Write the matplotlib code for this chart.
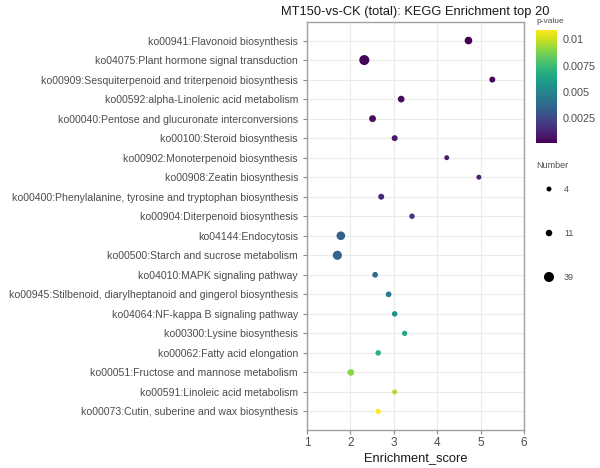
import matplotlib
matplotlib.use("Agg")
import matplotlib.pyplot as plt
import numpy as np

plt.rcParams["font.family"] = ["Liberation Sans", "DejaVu Sans"]

# pathways, top to bottom as shown
pathways = [
    "ko00941:Flavonoid biosynthesis",
    "ko04075:Plant hormone signal transduction",
    "ko00909:Sesquiterpenoid and triterpenoid biosynthesis",
    "ko00592:alpha-Linolenic acid metabolism",
    "ko00040:Pentose and glucuronate interconversions",
    "ko00100:Steroid biosynthesis",
    "ko00902:Monoterpenoid biosynthesis",
    "ko00908:Zeatin biosynthesis",
    "ko00400:Phenylalanine, tyrosine and tryptophan biosynthesis",
    "ko00904:Diterpenoid biosynthesis",
    "ko04144:Endocytosis",
    "ko00500:Starch and sucrose metabolism",
    "ko04010:MAPK signaling pathway",
    "ko00945:Stilbenoid, diarylheptanoid and gingerol biosynthesis",
    "ko04064:NF-kappa B signaling pathway",
    "ko00300:Lysine biosynthesis",
    "ko00062:Fatty acid elongation",
    "ko00051:Fructose and mannose metabolism",
    "ko00591:Linoleic acid metabolism",
    "ko00073:Cutin, suberine and wax biosynthesis",
]
enrichment = [4.72, 2.32, 5.27, 3.17, 2.51, 3.02, 4.22, 4.96, 2.71, 3.42,
              1.78, 1.70, 2.57, 2.88, 3.02, 3.25, 2.64, 2.01, 3.02, 2.64]
numbers = [18, 39, 8, 12, 13, 8, 4, 4, 8, 6,
           26, 30, 7, 7, 6, 5, 6, 12, 4, 5]
pvalues = [0.0001, 0.0002, 0.0003, 0.0004, 0.0005, 0.0008, 0.0010, 0.0011, 0.0013, 0.0018,
           0.0035, 0.0036, 0.0040, 0.0045, 0.0055, 0.0065, 0.0070, 0.0090, 0.0096, 0.0109]

size_breaks = [4, 11, 39]
cbar_ticks = [0.0025, 0.005, 0.0075, 0.01]
cbar_labels = ["0.0025", "0.005", "0.0075", "0.01"]


def dot_size(n):
    d_px = 2.6 + 1.19 * np.sqrt(np.asarray(n, dtype=float))
    return (d_px * 0.72) ** 2


grey_txt = "#4d4d4d"
fig = plt.figure(figsize=(6, 4.68), dpi=100)
W, H = 600, 468
ax = fig.add_axes([307 / W, 1 - 430 / H, (524 - 307) / W, (430 - 22) / H])

ypos = np.arange(len(pathways))[::-1]
sc = ax.scatter(enrichment, ypos, s=dot_size(numbers), c=pvalues, cmap="viridis",
                vmin=0.0001, vmax=0.0109, zorder=3, linewidths=0)

ax.set_xlim(1, 6)
ax.set_ylim(-0.95, len(pathways) - 1 + 0.95)
ax.set_xticks(range(1, 7))
ax.set_yticks(ypos)
ax.set_yticklabels(pathways)
ax.grid(True, color="#ebebeb", lw=0.8, zorder=0)
ax.set_axisbelow(True)
for sp in ax.spines.values():
    sp.set_color("#a0a0a0")
    sp.set_linewidth(1.0)
ax.tick_params(axis="both", colors="#8a8a8a", labelcolor=grey_txt, labelsize=7.6, length=3)
ax.tick_params(axis="x", labelsize=8.5, pad=2)
ax.set_xlabel("Enrichment_score", fontsize=9.3, color="#1a1a1a", labelpad=2)
ax.set_title("MT150-vs-CK (total): KEGG Enrichment top 20", fontsize=9.3,
             color="#1a1a1a", pad=5)

# colour bar
cax = fig.add_axes([536 / W, 1 - 143 / H, 21 / W, (143 - 30) / H])
cb = fig.colorbar(sc, cax=cax, ticks=cbar_ticks)
cb.set_ticklabels(cbar_labels)
cb.outline.set_visible(False)
cax.tick_params(length=0, labelsize=7.8, labelcolor=grey_txt, pad=4)
fig.text(536 / W, 1 - 25 / H, "p-value", fontsize=6, color=grey_txt, va="bottom")

# size legend
fig.text(536 / W, 1 - 170 / H, "Number", fontsize=6.5, color=grey_txt, va="bottom")
lax = fig.add_axes([536 / W, 1 - 300 / H, 60 / W, (300 - 175) / H])
lax.set_xlim(0, 60)
lax.set_ylim(300, 175)
lax.axis("off")
ly = [189, 233, 277]
lax.scatter([13] * len(size_breaks), ly, s=dot_size(size_breaks), c="black", linewidths=0)
for y, b in zip(ly, size_breaks):
    lax.text(28, y, str(b), fontsize=6.5, color=grey_txt, va="center")

fig.savefig("out.png", dpi=100)
